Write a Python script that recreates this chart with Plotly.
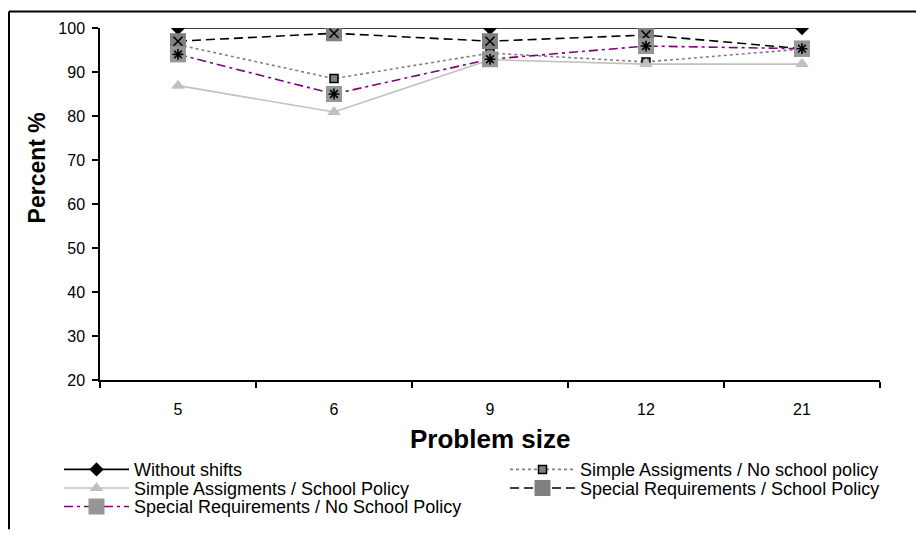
import plotly.graph_objects as go

categories = ["5", "6", "9", "12", "21"]
without_shifts = [100, 100, 100, 100, 100]
simple_no_school = [96.2, 88.5, 94.3, 92.3, 95.2]
simple_school = [86.9, 80.9, 92.8, 91.8, 91.8]
special_school = [97.0, 98.8, 97.0, 98.4, 95.3]
special_no_school = [94.0, 85.0, 92.9, 95.9, 95.3]

names = [
    "Without shifts",
    "Simple Assigments / No school policy",
    "Simple Assigments / School Policy",
    "Special Requirements / School Policy",
    "Special Requirements / No School Policy",
]
y_ticks = [20, 30, 40, 50, 60, 70, 80, 90, 100]

FONT = "Liberation Sans, Arial, sans-serif"

# plot area in pixels
L, R, T, B = 100, 880, 28, 389
W, H = 916, 537


def px(x):
    return (x - L) / (R - L)


def py(y):
    return (B - y) / (B - T)


fig = go.Figure()

fig.add_trace(go.Scatter(
    x=categories, y=without_shifts, name=names[0], mode="lines+markers",
    line=dict(color="black", width=1.6),
    marker=dict(symbol="diamond", size=11, color="black"),
    legend="legend"))

fig.add_trace(go.Scatter(
    x=categories, y=simple_no_school, name=names[1], mode="lines+markers",
    line=dict(color="#808080", width=1.6, dash="3px,3px"),
    marker=dict(symbol="square", size=8, color="#808080",
                line=dict(color="black", width=1.5)),
    legend="legend2"))

fig.add_trace(go.Scatter(
    x=categories, y=simple_school, name=names[2], mode="lines+markers",
    line=dict(color="#c0c0c0", width=1.6),
    marker=dict(symbol="triangle-up", size=12, color="#c0c0c0"),
    legend="legend3"))

fig.add_trace(go.Scatter(
    x=categories, y=special_school, name=names[3], mode="lines+markers",
    line=dict(color="black", width=1.6, dash="9px,5px"),
    marker=dict(symbol="square", size=16, color="#808080"),
    legend="legend4", legendgroup="g4"))
fig.add_trace(go.Scatter(
    x=categories, y=special_school, name=names[3], mode="markers",
    marker=dict(symbol="x-thin-open", size=9, color="black",
                line=dict(color="black", width=1.6)),
    showlegend=False, legend="legend4", legendgroup="g4"))

fig.add_trace(go.Scatter(
    x=categories, y=special_no_school, name=names[4], mode="lines+markers",
    line=dict(color="#800080", width=1.6, dash="9px,4px,3px,4px"),
    marker=dict(symbol="square", size=16, color="#969696"),
    legend="legend5", legendgroup="g5"))
fig.add_trace(go.Scatter(
    x=categories, y=special_no_school, name=names[4], mode="markers",
    marker=dict(symbol="asterisk-open", size=9, color="black",
                line=dict(color="black", width=1.6)),
    showlegend=False, legend="legend5", legendgroup="g5"))

leg_common = dict(bgcolor="rgba(0,0,0,0)", borderwidth=0, itemwidth=65,
                  font=dict(family=FONT, size=18, color="black"),
                  xanchor="left", yanchor="middle", orientation="h")

left_x, right_x = 59, 505
rows = [481, 500, 519]

fig.update_layout(
    width=W, height=H,
    margin=dict(l=L, r=W - R, t=T, b=H - B),
    paper_bgcolor="white", plot_bgcolor="white",
    showlegend=True,
    legend=dict(x=px(left_x), y=py(rows[0]), **leg_common),
    legend2=dict(x=px(right_x), y=py(rows[0]), **leg_common),
    legend3=dict(x=px(left_x), y=py(rows[1]), **leg_common),
    legend4=dict(x=px(right_x), y=py(rows[1]), **leg_common),
    legend5=dict(x=px(left_x), y=py(rows[2]), **leg_common),
    xaxis=dict(
        type="category", range=[-0.5, 4.5],
        showline=True, linecolor="black", linewidth=2,
        ticks="outside", tickson="boundaries", ticklen=6, tickwidth=1.5,
        tickcolor="black", showgrid=False, zeroline=False,
        tickfont=dict(family=FONT, size=16, color="black"),
        ticklabelstandoff=14,
    ),
    yaxis=dict(
        range=[20, 100], tickvals=y_ticks,
        showline=True, linecolor="black", linewidth=1.5,
        ticks="outside", ticklen=6, tickwidth=1.5, tickcolor="black",
        showgrid=False, zeroline=False,
        tickfont=dict(family=FONT, size=16, color="black"),
        ticklabelstandoff=4,
    ),
    annotations=[
        dict(text="<b>Problem size</b>", xref="paper", yref="paper",
             x=0.5, y=py(450), xanchor="center", yanchor="middle",
             showarrow=False, font=dict(family=FONT, size=26, color="black")),
        dict(text="<b>Percent %</b>", xref="paper", yref="paper",
             x=px(37), y=py(172), xanchor="center", yanchor="middle",
             textangle=-90, showarrow=False,
             font=dict(family=FONT, size=23, color="black")),
    ],
    shapes=[
        dict(type="line", xref="paper", yref="paper",
             x0=px(9), x1=px(W + 5), y0=py(11), y1=py(11),
             line=dict(color="black", width=2)),
        dict(type="line", xref="paper", yref="paper",
             x0=px(9), x1=px(9), y0=py(11), y1=py(H + 5),
             line=dict(color="black", width=2)),
    ],
)

fig.write_html("out.html")
